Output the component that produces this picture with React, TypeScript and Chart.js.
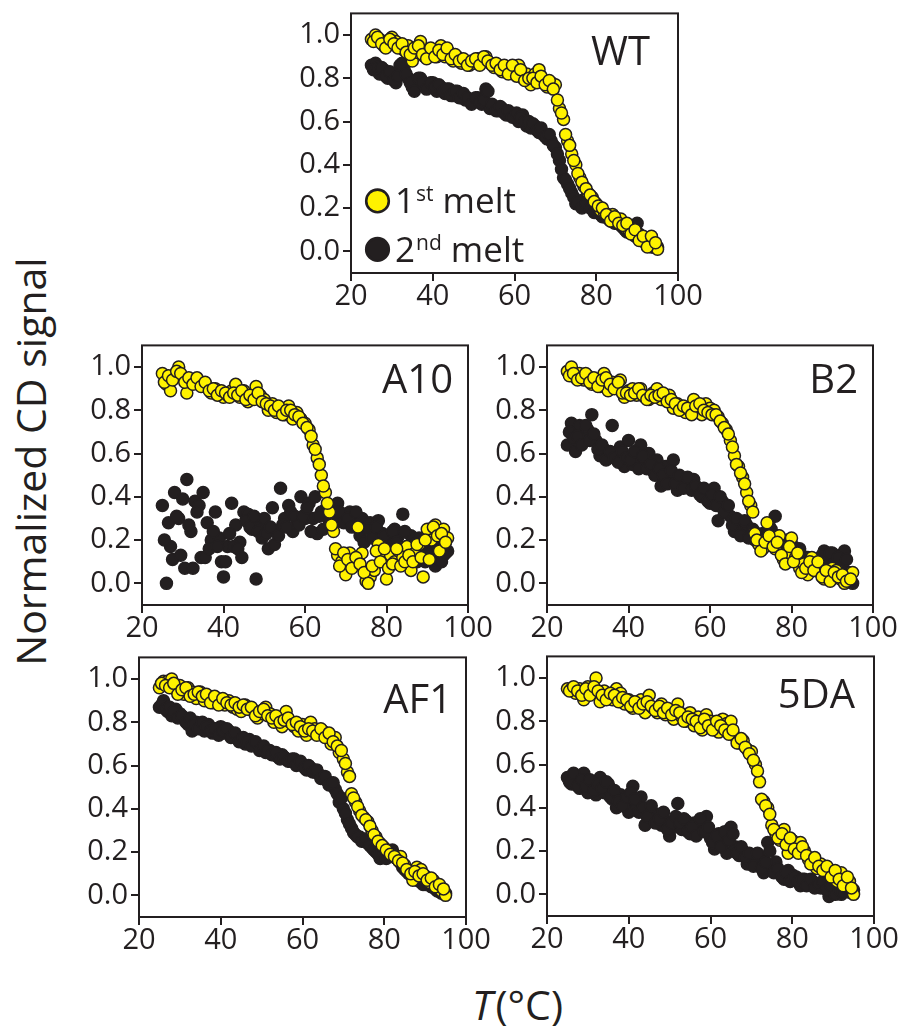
import React, { useEffect, useRef } from 'react';
import { Chart, registerables } from 'chart.js';

Chart.register(...registerables);

const INK = '#231f20';
const YELLOW = '#fff200';
const FONT = "'Open Sans', 'Noto Sans', sans-serif";

// ---- data -------------------------------------------------------------
const temps = [
  25, 26, 27, 28, 29, 30, 31, 32, 33, 34, 35, 36, 37, 38, 39, 40, 41, 42, 43, 44,
  45, 46, 47, 48, 49, 50, 51, 52, 53, 54, 55, 56, 57, 58, 59, 60, 61, 62, 63, 64,
  65, 66, 67, 68, 69, 70, 71, 72, 73, 74, 75, 76, 77, 78, 79, 80, 81, 82, 83, 84,
  85, 86, 87, 88, 89, 90, 91, 92, 93, 94, 95,
];
const tempsHalf = [
  25.5, 26.5, 27.5, 28.5, 29.5, 30.5, 31.5, 32.5, 33.5, 34.5, 35.5, 36.5, 37.5, 38.5,
  39.5, 40.5, 41.5, 42.5, 43.5, 44.5, 45.5, 46.5, 47.5, 48.5, 49.5, 50.5, 51.5, 52.5,
  53.5, 54.5, 55.5, 56.5, 57.5, 58.5, 59.5, 60.5, 61.5, 62.5, 63.5, 64.5, 65.5, 66.5,
  67.5, 68.5, 69.5, 70.5, 71.5, 72.5, 73.5, 74.5, 75.5, 76.5, 77.5, 78.5, 79.5, 80.5,
  81.5, 82.5, 83.5, 84.5, 85.5, 86.5, 87.5, 88.5, 89.5, 90.5, 91.5, 92.5, 93.5, 94.5,
];
const xTicks = [20, 40, 60, 80, 100];
const yTicks = [0, 0.2, 0.4, 0.6, 0.8, 1.0];
const seriesLabels = ['1st melt', '2nd melt'];
const legendMain = ['1', '2'];
const legendSup = ['st', 'nd'];
const legendTail = ['melt', 'melt'];

// WT
const wtFirst = [
  0.98, 1.0, 0.98, 0.95, 0.97, 0.99, 0.97, 0.95, 0.93, 0.95,
  0.88, 0.92, 0.97, 0.9, 0.93, 0.92, 0.9, 0.95, 0.9, 0.92,
  0.88, 0.9, 0.87, 0.88, 0.86, 0.87, 0.89, 0.88, 0.9, 0.87,
  0.85, 0.86, 0.83, 0.85, 0.84, 0.83, 0.86, 0.8, 0.82, 0.77,
  0.82, 0.84, 0.79, 0.76, 0.78, 0.77, 0.66, 0.61, 0.51, 0.45,
  0.4, 0.34, 0.3, 0.27, 0.25, 0.22, 0.19, 0.18, 0.16, 0.17,
  0.14, 0.15, 0.11, 0.1, 0.09, 0.07, 0.06, 0.04, 0.06, 0.03, 0.01,
];
const wtFirstB = [
  0.97, 0.99, 0.96, 0.94, 0.98, 0.96, 0.94, 0.96, 0.92, 0.91,
  0.94, 0.95, 0.91, 0.89, 0.94, 0.9, 0.93, 0.91, 0.94, 0.89,
  0.91, 0.88, 0.89, 0.86, 0.88, 0.89, 0.86, 0.9, 0.88, 0.86,
  0.87, 0.84, 0.86, 0.82, 0.86, 0.81, 0.84, 0.79, 0.8, 0.8,
  0.78, 0.81, 0.77, 0.79, 0.75, 0.7, 0.64, 0.54, 0.49, 0.42,
  0.36, 0.32, 0.29, 0.26, 0.23, 0.21, 0.2, 0.17, 0.14, 0.16,
  0.13, 0.12, 0.13, 0.08, 0.1, 0.05, 0.07, 0.02, 0.07, 0.04,
];
const wtSecond = [
  0.86, 0.87, 0.82, 0.84, 0.8, 0.82, 0.78, 0.86, 0.84, 0.8,
  0.76, 0.78, 0.8, 0.77, 0.76, 0.78, 0.74, 0.76, 0.73, 0.75,
  0.72, 0.74, 0.71, 0.7, 0.7, 0.69, 0.71, 0.68, 0.75, 0.66,
  0.67, 0.65, 0.66, 0.63, 0.64, 0.62, 0.6, 0.63, 0.58, 0.57,
  0.58, 0.55, 0.54, 0.52, 0.51, 0.48, 0.42, 0.34, 0.31, 0.27,
  0.22, 0.22, 0.24, 0.21, 0.2, 0.19, 0.17, 0.16, 0.15, 0.15,
  0.13, 0.12, 0.1, 0.09, 0.08, 0.13, 0.06, 0.04, 0.03, 0.02, 0.02,
];
const wtSecondB = [
  0.84, 0.85, 0.85, 0.81, 0.83, 0.79, 0.81, 0.87, 0.82, 0.78,
  0.74, 0.8, 0.78, 0.75, 0.78, 0.76, 0.77, 0.74, 0.75, 0.72,
  0.74, 0.71, 0.73, 0.71, 0.68, 0.71, 0.69, 0.7, 0.74, 0.68,
  0.65, 0.67, 0.64, 0.65, 0.62, 0.64, 0.62, 0.6, 0.6, 0.59,
  0.56, 0.57, 0.53, 0.54, 0.49, 0.45, 0.38, 0.33, 0.29, 0.25,
  0.23, 0.2, 0.22, 0.2, 0.18, 0.2, 0.16, 0.17, 0.14, 0.13,
  0.14, 0.11, 0.09, 0.1, 0.07, 0.08, 0.05, 0.05, 0.02, 0.03,
];

// A10
const a10First = [
  0.97, 0.92, 0.89, 0.96, 1.0, 0.95, 0.88, 0.93, 0.94, 0.93,
  0.92, 0.91, 0.88, 0.9, 0.88, 0.86, 0.87, 0.89, 0.92, 0.86,
  0.89, 0.84, 0.86, 0.91, 0.87, 0.85, 0.8, 0.83, 0.79, 0.81,
  0.78, 0.82, 0.76, 0.79, 0.76, 0.74, 0.71, 0.64, 0.58, 0.5,
  0.42, 0.33, 0.24, 0.13, 0.1, 0.04, 0.14, 0.09, 0.26, 0.14,
  0.01, 0.03, 0.06, 0.18, 0.12, 0.02, 0.13, 0.1, 0.15, 0.12,
  0.17, 0.06, 0.14, 0.18, 0.03, 0.25, 0.2, 0.27, 0.15, 0.25, 0.21,
];
const a10FirstB = [
  0.93, 0.96, 0.94, 0.98, 0.97, 0.93, 0.95, 0.92, 0.95, 0.91,
  0.93, 0.89, 0.9, 0.87, 0.89, 0.88, 0.86, 0.88, 0.87, 0.89,
  0.85, 0.87, 0.85, 0.88, 0.84, 0.83, 0.82, 0.8, 0.82, 0.78,
  0.8, 0.8, 0.78, 0.77, 0.74, 0.72, 0.68, 0.62, 0.55, 0.45,
  0.37, 0.27, 0.16, 0.08, 0.14, 0.11, 0.07, 0.12, 0.09, 0.05,
  0.0, 0.08, 0.15, 0.1, 0.16, 0.07, 0.09, 0.16, 0.08, 0.1,
  0.13, 0.1, 0.18, 0.12, 0.2, 0.11, 0.26, 0.22, 0.23, 0.19,
];
const a10SecondA = [
  0.36, 0.0, 0.17, 0.42, 0.3, 0.39, 0.48, 0.24, 0.38, 0.36,
  0.42, 0.28, 0.2, 0.33, 0.21, 0.03, 0.17, 0.37, 0.27, 0.19,
  0.33, 0.32, 0.25, 0.02, 0.27, 0.3, 0.16, 0.35, 0.24, 0.44,
  0.3, 0.36, 0.24, 0.29, 0.4, 0.3, 0.37, 0.3, 0.23, 0.33,
  0.34, 0.29, 0.33, 0.37, 0.3, 0.32, 0.33, 0.3, 0.26, 0.3,
  0.28, 0.28, 0.24, 0.29, 0.23, 0.2, 0.19, 0.25, 0.22, 0.32,
  0.17, 0.22, 0.15, 0.21, 0.12, 0.18, 0.14, 0.08, 0.24, 0.13, 0.15,
];
const a10SecondB = [
  0.2, 0.28, 0.11, 0.31, 0.13, 0.07, 0.27, 0.07, 0.33, 0.12,
  0.12, 0.16, 0.24, 0.17, 0.1, 0.1, 0.23, 0.17, 0.16, 0.12,
  0.29, 0.26, 0.31, 0.24, 0.21, 0.23, 0.26, 0.18, 0.22, 0.27,
  0.26, 0.33, 0.31, 0.27, 0.31, 0.35, 0.24, 0.4, 0.31, 0.25,
  0.36, 0.31, 0.28, 0.33, 0.28, 0.3, 0.26, 0.33, 0.22, 0.19,
  0.25, 0.21, 0.26, 0.18, 0.22, 0.16, 0.24, 0.19, 0.14, 0.24,
  0.13, 0.18, 0.1, 0.16, 0.1, 0.13, 0.11, 0.17, 0.1, 0.14,
];

// B2
const b2First = [
  0.98, 1.0, 0.95, 0.97, 0.94, 0.96, 0.92, 0.94, 0.91, 0.97,
  0.89, 0.93, 0.91, 0.94, 0.86, 0.89, 0.9, 0.87, 0.9, 0.86,
  0.85, 0.88, 0.9, 0.85, 0.86, 0.87, 0.81, 0.83, 0.8, 0.79,
  0.8, 0.85, 0.81, 0.78, 0.83, 0.81, 0.8, 0.77, 0.74, 0.71,
  0.66, 0.59, 0.54, 0.49, 0.42, 0.36, 0.23, 0.18, 0.16, 0.28,
  0.2, 0.16, 0.22, 0.11, 0.14, 0.21, 0.12, 0.07, 0.09, 0.04,
  0.12, 0.08, 0.05, 0.02, 0.04, 0.07, 0.06, 0.02, 0.0, 0.03, 0.05,
];
const b2FirstB = [
  0.96, 0.97, 0.94, 0.95, 0.97, 0.93, 0.95, 0.91, 0.94, 0.95,
  0.92, 0.9, 0.93, 0.88, 0.88, 0.87, 0.88, 0.9, 0.87, 0.85,
  0.87, 0.86, 0.87, 0.88, 0.84, 0.85, 0.83, 0.8, 0.82, 0.81,
  0.78, 0.82, 0.83, 0.8, 0.79, 0.78, 0.78, 0.75, 0.72, 0.69,
  0.63, 0.55, 0.51, 0.46, 0.38, 0.33, 0.2, 0.15, 0.19, 0.22,
  0.17, 0.19, 0.13, 0.09, 0.17, 0.1, 0.14, 0.05, 0.07, 0.1,
  0.06, 0.1, 0.03, 0.06, 0.01, 0.05, 0.03, 0.04, 0.01, 0.02,
];
const b2Second = [
  0.64, 0.74, 0.61, 0.73, 0.67, 0.71, 0.78, 0.66, 0.59, 0.62,
  0.58, 0.73, 0.6, 0.63, 0.54, 0.66, 0.55, 0.58, 0.64, 0.56,
  0.6, 0.52, 0.57, 0.45, 0.54, 0.47, 0.57, 0.43, 0.48, 0.47,
  0.45, 0.48, 0.44, 0.4, 0.43, 0.37, 0.44, 0.29, 0.38, 0.34,
  0.31, 0.24, 0.28, 0.25, 0.27, 0.22, 0.2, 0.18, 0.23, 0.21,
  0.25, 0.31, 0.18, 0.17, 0.2, 0.14, 0.12, 0.16, 0.1, 0.12,
  0.09, 0.07, 0.11, 0.15, 0.12, 0.14, 0.1, 0.13, 0.15, 0.05, 0.0,
];
const b2SecondB = [
  0.7, 0.67, 0.68, 0.64, 0.73, 0.66, 0.69, 0.62, 0.64, 0.57,
  0.61, 0.58, 0.56, 0.61, 0.58, 0.57, 0.61, 0.53, 0.59, 0.53,
  0.55, 0.5, 0.53, 0.5, 0.46, 0.52, 0.46, 0.5, 0.44, 0.49,
  0.43, 0.45, 0.41, 0.44, 0.38, 0.41, 0.36, 0.4, 0.33, 0.36,
  0.27, 0.3, 0.22, 0.29, 0.21, 0.25, 0.23, 0.2, 0.17, 0.27,
  0.2, 0.22, 0.15, 0.19, 0.15, 0.17, 0.11, 0.13, 0.08, 0.11,
  0.06, 0.09, 0.13, 0.1, 0.14, 0.09, 0.12, 0.08, 0.11, 0.02,
];

// AF1
const af1First = [
  0.96, 0.99, 0.99, 1.0, 0.95, 0.97, 0.93, 0.96, 0.94, 0.91,
  0.94, 0.9, 0.92, 0.89, 0.91, 0.9, 0.88, 0.9, 0.87, 0.86,
  0.85, 0.88, 0.86, 0.85, 0.82, 0.84, 0.87, 0.84, 0.8, 0.82,
  0.78, 0.85, 0.8, 0.78, 0.76, 0.79, 0.74, 0.8, 0.77, 0.76,
  0.76, 0.74, 0.7, 0.73, 0.66, 0.63, 0.57, 0.47, 0.43, 0.39,
  0.36, 0.34, 0.3, 0.27, 0.24, 0.22, 0.2, 0.19, 0.17, 0.18,
  0.14, 0.11, 0.07, 0.13, 0.12, 0.09, 0.06, 0.07, 0.04, 0.02, 0.0,
];
const af1FirstB = [
  0.98, 0.97, 0.96, 0.98, 0.93, 0.95, 0.96, 0.92, 0.93, 0.94,
  0.92, 0.93, 0.89, 0.92, 0.88, 0.91, 0.89, 0.88, 0.89, 0.87,
  0.88, 0.86, 0.87, 0.83, 0.85, 0.86, 0.83, 0.82, 0.83, 0.8,
  0.81, 0.82, 0.79, 0.8, 0.78, 0.76, 0.77, 0.76, 0.74, 0.77,
  0.73, 0.75, 0.71, 0.69, 0.67, 0.61, 0.55, 0.45, 0.41, 0.37,
  0.35, 0.32, 0.28, 0.25, 0.23, 0.21, 0.19, 0.18, 0.16, 0.15,
  0.12, 0.1, 0.11, 0.09, 0.1, 0.07, 0.08, 0.04, 0.05, 0.03,
];
const af1Second = [
  0.87, 0.9, 0.85, 0.83, 0.86, 0.84, 0.82, 0.79, 0.76, 0.8,
  0.78, 0.76, 0.79, 0.75, 0.77, 0.78, 0.75, 0.76, 0.74, 0.73,
  0.72, 0.7, 0.72, 0.7, 0.69, 0.68, 0.66, 0.67, 0.65, 0.64,
  0.65, 0.63, 0.62, 0.63, 0.61, 0.6, 0.58, 0.59, 0.57, 0.56,
  0.54, 0.53, 0.51, 0.49, 0.43, 0.4, 0.35, 0.31, 0.28, 0.27,
  0.25, 0.24, 0.22, 0.2, 0.17, 0.19, 0.2, 0.21, 0.17, 0.15,
  0.12, 0.1, 0.09, 0.07, 0.06, 0.05, 0.06, 0.04, 0.02, 0.01, 0.01,
];
const af1SecondB = [
  0.88, 0.86, 0.87, 0.85, 0.82, 0.83, 0.8, 0.82, 0.79, 0.77,
  0.8, 0.78, 0.76, 0.77, 0.74, 0.76, 0.77, 0.73, 0.75, 0.71,
  0.73, 0.71, 0.69, 0.71, 0.67, 0.69, 0.67, 0.65, 0.66, 0.63,
  0.64, 0.62, 0.63, 0.6, 0.62, 0.59, 0.6, 0.57, 0.58, 0.54,
  0.55, 0.51, 0.52, 0.47, 0.45, 0.38, 0.33, 0.29, 0.27, 0.25,
  0.26, 0.23, 0.21, 0.19, 0.2, 0.17, 0.19, 0.18, 0.16, 0.13,
  0.11, 0.11, 0.08, 0.08, 0.05, 0.06, 0.04, 0.03, 0.02, 0.02,
];

// 5DA
const da5First = [
  0.95, 0.95, 0.93, 0.95, 0.9, 0.96, 0.93, 1.0, 0.89, 0.94,
  0.91, 0.9, 0.95, 0.93, 0.88, 0.9, 0.86, 0.88, 0.9, 0.84,
  0.92, 0.86, 0.84, 0.88, 0.83, 0.85, 0.81, 0.88, 0.82, 0.8,
  0.84, 0.78, 0.82, 0.76, 0.83, 0.8, 0.78, 0.75, 0.81, 0.79,
  0.8, 0.73, 0.7, 0.71, 0.67, 0.66, 0.6, 0.52, 0.43, 0.4,
  0.32, 0.28, 0.25, 0.3, 0.19, 0.25, 0.22, 0.24, 0.2, 0.16,
  0.15, 0.12, 0.14, 0.12, 0.1, 0.08, 0.06, 0.1, 0.05, 0.06, 0.0,
];
const da5FirstB = [
  0.94, 0.96, 0.94, 0.92, 0.95, 0.92, 0.96, 0.94, 0.92, 0.9,
  0.93, 0.92, 0.89, 0.91, 0.9, 0.87, 0.89, 0.86, 0.88, 0.89,
  0.87, 0.85, 0.87, 0.84, 0.86, 0.83, 0.85, 0.84, 0.8, 0.82,
  0.81, 0.8, 0.77, 0.81, 0.78, 0.76, 0.8, 0.78, 0.76, 0.74,
  0.76, 0.7, 0.72, 0.68, 0.65, 0.62, 0.57, 0.44, 0.41, 0.37,
  0.3, 0.26, 0.28, 0.23, 0.26, 0.21, 0.19, 0.22, 0.18, 0.14,
  0.17, 0.13, 0.11, 0.13, 0.08, 0.11, 0.07, 0.04, 0.08, 0.03,
];
const da5Second = [
  0.54, 0.51, 0.55, 0.49, 0.56, 0.47, 0.52, 0.46, 0.54, 0.47,
  0.51, 0.44, 0.4, 0.46, 0.42, 0.38, 0.5, 0.41, 0.45, 0.32,
  0.38, 0.35, 0.37, 0.32, 0.34, 0.27, 0.31, 0.42, 0.3, 0.34,
  0.28, 0.33, 0.3, 0.34, 0.36, 0.26, 0.21, 0.28, 0.24, 0.19,
  0.31, 0.22, 0.18, 0.2, 0.14, 0.18, 0.15, 0.17, 0.1, 0.24,
  0.13, 0.15, 0.1, 0.07, 0.11, 0.09, 0.08, 0.04, 0.07, 0.05,
  0.06, 0.04, 0.03, 0.05, -0.01, 0.01, 0.03, 0.0, 0.02, 0.01, 0.02,
];
const da5SecondB = [
  0.52, 0.56, 0.5, 0.53, 0.5, 0.53, 0.48, 0.51, 0.49, 0.52,
  0.45, 0.48, 0.43, 0.41, 0.45, 0.47, 0.44, 0.38, 0.4, 0.36,
  0.41, 0.33, 0.35, 0.38, 0.3, 0.33, 0.36, 0.33, 0.35, 0.29,
  0.31, 0.27, 0.35, 0.29, 0.31, 0.24, 0.27, 0.22, 0.29, 0.25,
  0.28, 0.19, 0.22, 0.17, 0.19, 0.13, 0.19, 0.12, 0.15, 0.2,
  0.1, 0.12, 0.08, 0.1, 0.06, 0.08, 0.06, 0.07, 0.04, 0.07,
  0.03, 0.05, 0.06, 0.02, 0.04, 0.0, 0.02, 0.01, 0.03, 0.02,
];

type Series = [number[], number[]][];
interface PanelDef {
  name: string;
  box: [number, number, number, number];
  labelDx: number;
  labelDy: number;
  first: Series;
  second: Series;
  legend?: boolean;
}

const panels: PanelDef[] = [
  {
    name: 'WT', box: [351, 13, 678, 273], labelDx: 28, labelDy: 52, legend: true,
    first: [[temps, wtFirst], [tempsHalf, wtFirstB]],
    second: [[temps, wtSecond], [tempsHalf, wtSecondB]],
  },
  {
    name: 'A10', box: [142, 345, 468, 605], labelDx: 15, labelDy: 48,
    first: [[temps, a10First], [tempsHalf, a10FirstB]],
    second: [[temps, a10SecondA], [tempsHalf, a10SecondB]],
  },
  {
    name: 'B2', box: [547, 345, 873, 605], labelDx: 15, labelDy: 48,
    first: [[temps, b2First], [tempsHalf, b2FirstB]],
    second: [[temps, b2Second], [tempsHalf, b2SecondB]],
  },
  {
    name: 'AF1', box: [139, 657, 466, 917], labelDx: 14, labelDy: 56,
    first: [[temps, af1First], [tempsHalf, af1FirstB]],
    second: [[temps, af1Second], [tempsHalf, af1SecondB]],
  },
  {
    name: '5DA', box: [547, 656, 874, 916], labelDx: 19, labelDy: 52,
    first: [[temps, da5First], [tempsHalf, da5FirstB]],
    second: [[temps, da5Second], [tempsHalf, da5SecondB]],
  },
];

// ---- layout constants ---------------------------------------------------
const Y_AXIS_W = 75;
const X_AXIS_H = 50;
const PAD_T = 20;
const PAD_R = 28;

const framePlugin = {
  id: 'frame',
  afterDraw(chart: any, _args: any, opts: any) {
    const { ctx, chartArea: a } = chart;
    ctx.save();
    ctx.strokeStyle = INK;
    ctx.lineWidth = 2;
    ctx.strokeRect(a.left, a.top, a.right - a.left, a.bottom - a.top);
    ctx.fillStyle = INK;
    ctx.textBaseline = 'alphabetic';
    ctx.textAlign = 'right';
    ctx.font = `40px ${FONT}`;
    ctx.fillText(opts.text, a.right - opts.dx, a.top + opts.dy);
    if (opts.legend) {
      const ds = chart.data.datasets;
      ctx.textAlign = 'left';
      for (let i = 0; i < 2; i++) {
        const cy = a.top + 187.5 + i * 48.5;
        ctx.beginPath();
        ctx.arc(a.left + 26.5, cy, 11.3, 0, Math.PI * 2);
        ctx.fillStyle = ds[i].backgroundColor;
        ctx.fill();
        ctx.lineWidth = 2.6;
        ctx.strokeStyle = INK;
        ctx.stroke();
        ctx.fillStyle = INK;
        const base = a.top + 200 + i * 49;
        let x = a.left + 44;
        ctx.font = `35px ${FONT}`;
        ctx.fillText(legendMain[i], x, base);
        x += ctx.measureText(legendMain[i]).width;
        ctx.font = `21px ${FONT}`;
        ctx.fillText(legendSup[i], x + 1, base - 12);
        x += ctx.measureText(legendSup[i]).width + 1;
        ctx.font = `35px ${FONT}`;
        x += ctx.measureText(' ').width;
        ctx.fillText(legendTail[i], x, base);
      }
    }
    ctx.restore();
  },
};

function Panel({ p }: { p: PanelDef }) {
  const ref = useRef<HTMLCanvasElement | null>(null);
  const [L, T, R, B] = p.box;
  const w = R - L + Y_AXIS_W + PAD_R;
  const h = B - T + PAD_T + X_AXIS_H;

  useEffect(() => {
    if (!ref.current) return;
    const pts = (s: Series) => s.flatMap(([xs, ys]) => xs.map((x, i) => ({ x, y: ys[i] })));
    const tickFont = { size: 29, family: FONT };
    const chart = new Chart(ref.current, {
      type: 'scatter',
      data: {
        datasets: [
          {
            label: seriesLabels[0],
            data: pts(p.first),
            backgroundColor: YELLOW,
            borderColor: INK,
            borderWidth: 1.5,
            pointRadius: 6,
            pointHoverRadius: 6,
          },
          {
            label: seriesLabels[1],
            data: pts(p.second),
            backgroundColor: INK,
            borderColor: INK,
            borderWidth: 1.5,
            pointRadius: 6,
            pointHoverRadius: 6,
          },
        ],
      },
      options: {
        responsive: false,
        animation: false,
        events: [],
        layout: { padding: { top: PAD_T, right: PAD_R, left: 0, bottom: 0 } },
        plugins: {
          legend: { display: false },
          tooltip: { enabled: false },
          frame: { text: p.name, dx: p.labelDx, dy: p.labelDy, legend: !!p.legend },
        } as any,
        scales: {
          x: {
            type: 'linear',
            min: 20,
            max: 100,
            afterBuildTicks: (s: any) => {
              s.ticks = xTicks.map((v) => ({ value: v }));
            },
            afterFit: (s: any) => {
              s.height = X_AXIS_H;
            },
            border: { display: false },
            grid: { display: true, drawOnChartArea: false, drawTicks: true, tickLength: 8, color: INK, lineWidth: 2 },
            ticks: {
              color: INK,
              font: tickFont,
              padding: -2,
              maxRotation: 0,
              autoSkip: false,
              callback: (v: any) => String(v),
            },
          },
          y: {
            type: 'linear',
            min: -0.1,
            max: 1.1,
            afterBuildTicks: (s: any) => {
              s.ticks = yTicks.map((v) => ({ value: v }));
            },
            afterFit: (s: any) => {
              s.width = Y_AXIS_W;
            },
            border: { display: false },
            grid: { display: true, drawOnChartArea: false, drawTicks: true, tickLength: 8, color: INK, lineWidth: 2 },
            ticks: {
              color: INK,
              font: tickFont,
              padding: 3,
              autoSkip: false,
              callback: (v: any) => Number(v).toFixed(1),
            },
          },
        },
      },
      plugins: [framePlugin],
    } as any);
    return () => chart.destroy();
  }, []);

  return (
    <canvas
      ref={ref}
      width={w}
      height={h}
      style={{ position: 'absolute', left: L - Y_AXIS_W, top: T - PAD_T, width: w, height: h }}
    />
  );
}

export default function App() {
  return (
    <div
      style={{
        position: 'absolute',
        left: 0,
        top: 0,
        width: 904,
        height: 1030,
        overflow: 'hidden',
        background: '#ffffff',
        fontFamily: FONT,
        color: INK,
      }}
    >
      {panels.map((p) => (
        <Panel key={p.name} p={p} />
      ))}
      <div
        style={{
          position: 'absolute',
          left: 30 - 250,
          top: 461 - 20.5,
          width: 500,
          height: 41,
          lineHeight: '41px',
          fontSize: 41,
          textAlign: 'center',
          whiteSpace: 'nowrap',
          transform: 'rotate(-90deg)',
        }}
      >
        Normalized CD signal
      </div>
      <div
        style={{
          position: 'absolute',
          left: 472,
          top: 984,
          height: 41,
          lineHeight: '41px',
          fontSize: 41,
          whiteSpace: 'nowrap',
        }}
      >
        <i style={{ marginRight: 3 }}>T</i>(°C)
      </div>
    </div>
  );
}
